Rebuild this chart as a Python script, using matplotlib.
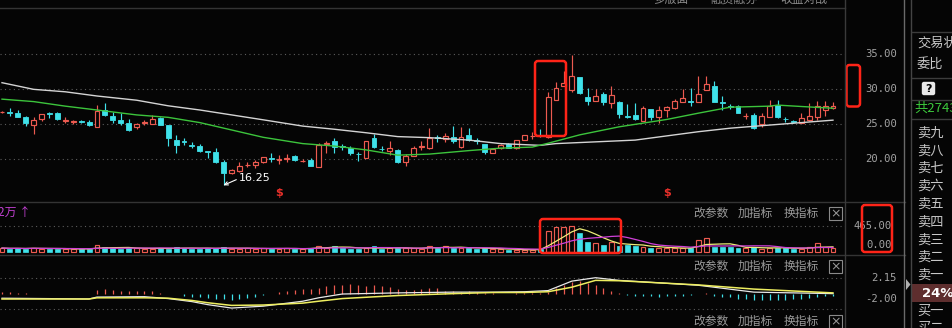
import matplotlib
matplotlib.use('Agg')
import matplotlib.pyplot as plt
import matplotlib.transforms as mtransforms
from matplotlib.patches import FancyBboxPatch, Rectangle, Polygon
import numpy as np
import pandas as pd

plt.rcParams['font.family'] = ['Noto Sans CJK SC', 'DejaVu Sans']

# ---------------- data ----------------
opens = [26.65, 26.7, 26.6, 26.05, 24.8, 25.75, 26.5, 26.5, 25.4, 25.3,
         25.4, 25.35, 24.55, 27.0, 26.15, 25.6, 25.1, 24.55, 25.15, 25.0,
         25.9, 24.85, 22.7, 22.55, 21.95, 21.85, 21.1, 21.05, 19.6, 17.95,
         18.33, 19.1, 19.15, 19.5, 20.15, 19.9, 20.05, 20.45, 19.65, 19.85,
         18.9, 22.15, 22.5, 21.8, 21.5, 20.75, 20.2, 22.95, 21.45, 21.2,
         21.3, 19.5, 20.45, 21.7, 21.5, 23.1, 22.8, 23.1, 21.75, 23.45,
         22.7, 22.1, 20.9, 21.5, 22.15, 21.5, 22.7, 23.25, 23.35, 23.1,
         28.45, 30.45, 29.85, 31.65, 28.9, 28.35, 29.35, 27.95, 28.2, 26.15,
         26.3, 25.45, 27.1, 26.0, 27.0, 27.25, 28.2, 28.3, 28.2, 29.85,
         30.45, 28.1, 27.5, 27.5, 26.1, 26.3, 25.0, 26.05, 27.7, 25.75,
         25.45, 25.2, 25.5, 26.05, 27.0, 27.35]
highs = [26.9, 27.25, 27.0, 26.15, 26.05, 26.4, 26.7, 26.7, 25.95, 25.6,
         25.6, 25.5, 27.7, 27.95, 26.65, 26.6, 25.65, 25.2, 25.55, 26.25,
         25.95, 24.9, 23.45, 23.05, 22.4, 22.15, 21.15, 21.5, 19.85, 18.6,
         19.5, 19.5, 19.85, 20.3, 20.8, 20.6, 20.7, 20.6, 20.0, 20.1,
         22.35, 22.5, 22.95, 22.2, 21.8, 21.0, 22.6, 23.55, 21.9, 22.5,
         21.4, 20.7, 21.8, 22.5, 24.4, 23.45, 23.7, 24.7, 24.5, 24.4,
         23.0, 22.2, 21.5, 22.1, 22.3, 22.75, 23.45, 23.9, 24.3, 29.6,
         31.05, 32.6, 34.8, 31.7, 30.1, 29.95, 29.6, 30.45, 28.3, 27.9,
         28.05, 27.55, 27.2, 27.55, 27.6, 28.5, 29.95, 30.1, 31.8, 31.85,
         31.15, 29.0, 27.9, 27.7, 26.6, 26.6, 26.6, 28.45, 28.45, 26.05,
         25.6, 26.5, 28.0, 28.3, 28.3, 28.2]
lows = [26.55, 26.15, 25.95, 24.7, 23.5, 25.45, 25.8, 25.6, 25.2, 24.95,
        25.1, 24.7, 24.5, 26.15, 25.1, 24.85, 24.05, 24.35, 24.9, 24.95,
        24.8, 21.9, 20.8, 22.0, 21.5, 21.0, 20.1, 19.4, 16.25, 17.9,
        18.2, 18.8, 18.7, 19.45, 19.6, 19.35, 19.6, 19.7, 19.5, 19.0,
        18.9, 20.8, 20.8, 21.3, 20.6, 19.7, 20.1, 21.5, 21.15, 20.55,
        19.4, 19.0, 20.4, 21.3, 21.4, 22.45, 22.4, 22.3, 21.6, 22.6,
        22.2, 20.7, 20.8, 21.45, 21.55, 21.45, 22.65, 22.9, 23.1, 23.0,
        28.4, 30.4, 29.5, 29.35, 27.7, 28.3, 27.7, 27.25, 25.8, 25.9,
        25.6, 25.4, 25.5, 25.2, 25.95, 27.2, 28.15, 27.5, 28.15, 29.8,
        28.15, 27.0, 27.2, 26.5, 25.7, 24.35, 24.6, 26.0, 25.9, 25.25,
        25.2, 25.15, 25.45, 25.6, 26.1, 27.1]
closes = [26.75, 26.6, 26.05, 25.2, 25.55, 26.4, 26.4, 25.7, 25.5, 25.45,
          25.32, 24.8, 26.9, 26.35, 25.6, 25.1, 24.15, 25.0, 25.22, 25.65,
          24.8, 22.95, 22.0, 22.45, 21.85, 21.15, 20.95, 19.6, 18.05, 18.45,
          19.0, 19.2, 19.6, 20.25, 20.05, 20.0, 20.15, 19.85, 19.75, 19.0,
          22.0, 22.25, 21.75, 21.7, 20.8, 20.65, 22.55, 21.65, 21.4, 21.5,
          19.6, 20.45, 21.5, 21.9, 22.95, 23.0, 23.3, 22.5, 23.1, 22.7,
          22.6, 21.05, 21.4, 22.0, 21.6, 22.7, 23.4, 23.35, 23.25, 28.9,
          30.1, 30.8, 31.85, 29.4, 28.35, 29.05, 28.2, 29.15, 26.4, 26.05,
          25.7, 27.3, 26.05, 27.0, 27.4, 28.35, 28.7, 28.2, 29.3, 30.7,
          28.2, 28.0, 27.4, 26.55, 26.2, 24.4, 26.1, 27.55, 25.95, 25.65,
          25.35, 25.8, 26.15, 27.55, 27.55, 27.5]
volumes = [65, 55, 60, 50, 75, 55, 50, 55, 45, 50, 45, 55,
           120, 80,
           60, 55, 65, 70, 55, 50, 60, 55, 85, 70, 55, 50, 60, 65, 80, 55, 50, 60, 55, 65,
           50, 55, 60, 55, 50, 65,
           110, 75, 105, 60, 55, 50, 60, 105, 55, 60, 70, 60, 65, 55, 105, 70, 95, 60, 75, 60,
           55, 65, 45, 40, 35, 35, 30, 35, 50,
           370, 445, 445, 465, 330, 180, 150, 120, 180, 110,
           120, 100, 90, 70, 70, 60, 65, 60, 70, 210, 240, 90, 85, 80, 75, 60, 85, 55, 65, 75,
           70, 45, 55, 80, 150, 80, 70]
macd_hist = [0.25, 0.3, 0.2, 0.1,
             0.05, 0.03, 0.05, 0.04, 0.06, 0.05, 0.04, 0.05,
             0.55, 0.6, 0.5, 0.45, 0.4, 0.35, 0.4, 0.35,
             0.1, 0.05, -0.05,
             -0.2, -0.35, -0.45, -0.55, -0.6, -0.7, -0.75, -0.7, -0.55, -0.35,
             -0.1, 0.05,
             0.3, 0.4, 0.5, 0.6, 0.7, 0.85, 1.0,
             1.2, 1.25, 1.3, 1.2, 1.1, 1.15, 1.05, 0.9, 0.6, 0.55, 0.5, 0.6, 0.8, 0.8,
             0.4, 0.35, 0.3, 0.35, 0.3, 0.2,
             0.1, 0.05, 0.05, 0.1, 0.1, 0.15,
             0.2, 0.3, 0.75, 1.2, 1.6, 1.7, 1.45, 1.2, 0.8, 0.35, 0.1,
             -0.1, -0.2, -0.3, -0.3, -0.35, -0.3, -0.3, -0.25, -0.15,
             0.05, 0.1,
             -0.2, -0.35, -0.45, -0.6, -0.7, -0.8, -0.85, -0.85, -0.8, -0.75, -0.7, -0.6,
             -0.5, -0.4, -0.3, -0.2]

ma_white_idx = [0, 4, 8, 12, 17, 21, 25, 29, 33, 38, 42, 46, 50, 54, 59, 63, 68, 70, 75, 80, 84, 88, 92, 97, 101, 105]
ma_white_val = [30.9, 29.95, 29.6, 29.0, 28.4, 27.6, 27.0, 26.3, 25.6, 24.7, 24.25, 23.75, 23.2, 23.05, 22.7, 22.2,
                21.95, 22.2, 22.45, 22.7, 23.3, 23.9, 24.4, 24.85, 25.2, 25.55]
ma_green_idx = [0, 4, 8, 12, 17, 21, 25, 29, 33, 38, 42, 46, 50, 54, 59, 63, 67, 69, 73, 78, 84, 88, 92, 97, 98, 101, 105]
ma_green_val = [28.55, 28.2, 27.55, 27.0, 26.3, 25.95, 25.2, 24.15, 23.1, 22.2, 21.85, 21.3, 20.55, 20.7, 21.2, 21.55,
                21.7, 22.25, 23.45, 24.6, 25.65, 26.55, 27.4, 27.55, 27.7, 27.5, 27.25]

macd_line_idx = [0, 11, 12, 18, 21, 24, 26, 29, 33, 38, 40, 43, 50, 57, 62, 66, 69, 72, 75, 78, 88, 95, 105]
dea_val = [-0.66, -0.66, -0.5, -0.5, -0.55, -0.85, -1.15, -1.5, -1.45, -1.2, -0.95, -0.6, -0.2, 0.05, 0.2, 0.2,
           0.3, 0.9, 1.8, 1.75, 1.2, 0.65, 0.15]
dif_val = [-0.55, -0.65, -0.4, -0.35, -0.6, -1.0, -1.4, -1.85, -1.6, -0.95, -0.5, 0.0, 0.15, 0.25, 0.25, 0.3,
           0.45, 1.7, 2.15, 1.8, 1.15, 0.25, 0.05]

price_ticks = [20.0, 25.0, 30.0, 35.0]
vol_ticks = [0.0, 465.0]
macd_ticks = [-2.00, 2.15]
signal_idx = [35, 84]
sell_labels = ['卖九', '卖八', '卖七', '卖六', '卖五', '卖四', '卖三', '卖二', '卖一']
buy_labels = ['买一', '买二']
panel_buttons = ['改参数', '加指标', '换指标']
top_tabs = ['多版面', '融资融券', '收益对战']

# ---------------- styling ----------------
W, H, DPI = 953, 328, 100
BG = '#050505'
RED = '#ec5a50'
CYAN = '#3fe2ea'
GRID = '#5c5c5c'
TXT = '#a4a4a4'
SEP = '#343434'
BOX = '#ff2418'

fig = plt.figure(figsize=(W / DPI, H / DPI), dpi=DPI, facecolor=BG)


def prect(x0, y0, x1, y1):
    return [x0 / W, 1 - y1 / H, (x1 - x0) / W, (y1 - y0) / H]


o = np.array(opens); h = np.array(highs); l = np.array(lows); c = np.array(closes)
v = np.array(volumes, dtype=float); mh = np.array(macd_hist)
n = len(c)
idx = np.arange(n)
up = c >= o
PX = 7.914
xlim = (-2 / PX, 843 / PX)
BW = 0.62


def clean(ax):
    ax.set_facecolor('none')
    for s in ax.spines.values():
        s.set_visible(False)
    ax.set_xlim(*xlim)
    ax.set_xticks([])
    ax.tick_params(axis='y', length=0, labelleft=False, labelright=False)


# ---- price panel ----
axp = fig.add_axes(prect(0, 8, 845, 201))
clean(axp)
axp.set_ylim(14.0, 41.571)
axp.set_yticks(price_ticks)
axp.grid(axis='y', color=GRID, linestyle=(0, (1, 3)), linewidth=0.8)
axp.set_axisbelow(True)
lo_b = np.minimum(o, c); hi_b = np.maximum(o, c)
cols = np.where(up, RED, CYAN)
axp.vlines(idx, hi_b, h, colors=cols, lw=0.85, zorder=2)
axp.vlines(idx, l, lo_b, colors=cols, lw=0.85, zorder=2)
hgt = np.maximum(hi_b - lo_b, 0.001)
axp.bar(idx[up], hgt[up], bottom=lo_b[up], width=BW, facecolor=BG, edgecolor=RED, linewidth=0.85, zorder=2)
axp.bar(idx[~up], hgt[~up], bottom=lo_b[~up], width=BW, facecolor=CYAN, edgecolor=CYAN, linewidth=0.6, zorder=2)
axp.plot(ma_white_idx, ma_white_val, color='#d4d4d4', lw=1.0, zorder=3)
axp.plot(ma_green_idx, ma_green_val, color='#3cc43c', lw=1.0, zorder=3)
for si in signal_idx:
    axp.text(si, 15.15, '$', color='#e8302a', fontsize=8, fontweight='bold', ha='center', va='center',
             family='DejaVu Sans')
imin = int(np.argmin(l))
axp.annotate(f'{l[imin]:.2f}', xy=(imin, l[imin]), xytext=(15.5, 6.8), textcoords='offset pixels',
             color='white', fontsize=8, ha='left', va='center', family='DejaVu Sans',
             arrowprops=dict(arrowstyle='->', color='white', lw=0.8, shrinkA=0, shrinkB=0,
                             relpos=(0, 0.5), mutation_scale=6))
tp = mtransforms.blended_transform_factory(axp.transAxes, axp.transData)
for t in price_ticks:
    axp.text(897 / 845, t, f'{t:.2f}', transform=tp, ha='right', va='center', color=TXT,
             fontsize=7.6, family='DejaVu Sans Mono', clip_on=False)

# ---- volume panel ----
axv = fig.add_axes(prect(0, 202, 845, 254))
clean(axv)
axv.set_ylim(-41.2, 889.6)
axv.axhline(vol_ticks[1], color=GRID, linestyle=(0, (1, 3)), linewidth=0.8, zorder=0)
axv.bar(idx[up], v[up], width=BW, facecolor=BG, edgecolor=RED, linewidth=0.85, zorder=2)
axv.bar(idx[~up], v[~up], width=BW, facecolor=CYAN, edgecolor=CYAN, linewidth=0.5, zorder=2)
vs = pd.Series(v)
axv.plot(idx, vs.rolling(5, min_periods=1).mean(), color='#ecec78', lw=0.9, zorder=3)
axv.plot(idx, vs.rolling(10, min_periods=1).mean(), color='#d040d8', lw=0.9, zorder=3)
tv = mtransforms.blended_transform_factory(axv.transAxes, axv.transData)
axv.text(892 / 845, vol_ticks[1], f'{vol_ticks[1]:.2f}', transform=tv, ha='right', va='center',
         color=TXT, fontsize=7.6, family='DejaVu Sans Mono', clip_on=False)
axv.text(892 / 845, vol_ticks[0], f'{vol_ticks[0]:.2f}',
         transform=mtransforms.offset_copy(tv, fig=fig, y=6.5, units='dots'), ha='right', va='center',
         color=TXT, fontsize=7.6, family='DejaVu Sans Mono', clip_on=False)

# ---- MACD panel ----
axm = fig.add_axes(prect(0, 257, 845, 312))
clean(axm)
axm.set_ylim(-2.37, 4.88)
for t in macd_ticks:
    axm.axhline(t, color=GRID, linestyle=(0, (1, 3)), linewidth=0.8, zorder=0)
axm.vlines(idx, 0, mh, colors=np.where(mh >= 0, RED, CYAN), lw=0.9, zorder=2)
axm.plot(macd_line_idx, dif_val, color='#e8e8e8', lw=0.9, zorder=3)
axm.plot(macd_line_idx, dea_val, color='#eeee60', lw=1.1, zorder=3)
tm = mtransforms.blended_transform_factory(axm.transAxes, axm.transData)
axm.text(897 / 845, macd_ticks[1], f'{macd_ticks[1]:.2f}', transform=tm, ha='right', va='center',
         color=TXT, fontsize=7.6, family='DejaVu Sans Mono', clip_on=False)
axm.text(897 / 845, macd_ticks[0], f'{macd_ticks[0]:.2f}',
         transform=mtransforms.offset_copy(tm, fig=fig, y=10, units='dots'), ha='right', va='center',
         color=TXT, fontsize=7.6, family='DejaVu Sans Mono', clip_on=False)

# ---- overlay (pixel coordinates) ----
ov = fig.add_axes([0, 0, 1, 1], zorder=10)
ov.set_xlim(0, W); ov.set_ylim(H, 0)
ov.axis('off'); ov.patch.set_alpha(0)

# separators
ov.plot([0, 845], [8, 8], color=SEP, lw=1)
ov.plot([0, 905], [201.5, 201.5], color=SEP, lw=1)
ov.plot([0, 905], [254.5, 254.5], color=SEP, lw=1)
ov.plot([845.5, 845.5], [0, H], color='#3a3a3a', lw=1)
ov.plot([904.5, 904.5], [0, H], color='#6a6a6a', lw=1)
ov.plot([911.5, 911.5], [0, H], color='#444444', lw=1)
for yy in [32, 78, 100, 119]:
    ov.plot([912, W], [yy, yy], color='#3c3c3c', lw=1)
ov.add_patch(Polygon([[906, 279], [906, 290], [910.5, 284.5]], closed=True, fc='#b0b0b0', ec='none'))

# top clipped tabs
for tx, lab in zip([653, 710, 780], top_tabs):
    ov.text(tx, -1, lab, color='#8a8a8a', fontsize=8.5, ha='left', va='center')

# panel headers
ov.text(-2, 213.5, '2万 ↑', color='#c040d0', fontsize=8.5, ha='left', va='center')
for yc in [213.5, 266.5, 321.5]:
    for tx, lab in zip([693, 738, 784], panel_buttons):
        ov.text(tx, yc, lab, color='#9a9a9a', fontsize=8.5, ha='left', va='center')
    ov.add_patch(Rectangle((829.5, yc - 6.5), 13, 13, fc='none', ec='#8a8a8a', lw=0.8))
    ov.text(836, yc, '×', color='#9a9a9a', fontsize=9, ha='center', va='center', family='DejaVu Sans')

# right panel
RT = '#c8c8c8'
ov.text(917, 43, '交易状态', color=RT, fontsize=9.5, ha='left', va='center')
ov.text(917, 65, '委比', color=RT, fontsize=9.5, ha='left', va='center')
ov.add_patch(FancyBboxPatch((923, 83), 11, 11, boxstyle='round,pad=0.5,rounding_size=1.5',
                            fc='#e8e8e8', ec='#e8e8e8'))
ov.text(928.5, 88.8, '?', color='black', fontsize=8, fontweight='bold', ha='center', va='center',
        family='DejaVu Sans')
ov.text(914, 108, '共2743', color='#3cc83c', fontsize=9.5, ha='left', va='center')
for k, lab in enumerate(sell_labels):
    ov.text(917, 133 + 17.8 * k, lab, color=RT, fontsize=9.5, ha='left', va='center')
ov.add_patch(Rectangle((912, 284), 41, 18, fc='#5e2e2e', ec='none'))
ov.text(922, 293.5, '24%', color='white', fontsize=9.5, fontweight='bold', ha='left', va='center',
        family='DejaVu Sans')
for k, lab in enumerate(buy_labels):
    ov.text(917, 311 + 17.8 * k, lab, color=RT, fontsize=9.5, ha='left', va='center')

# red highlight boxes
for (x0, y0, x1, y1) in [(535, 61, 566, 136), (846.5, 65, 860, 106.5), (540, 219, 621, 253),
                         (862, 205, 892, 252)]:
    ov.add_patch(FancyBboxPatch((x0, y0), x1 - x0, y1 - y0, boxstyle='round,pad=0,rounding_size=3',
                                fc='none', ec=BOX, lw=1.8))

fig.savefig('out.png', dpi=DPI, facecolor=BG)
